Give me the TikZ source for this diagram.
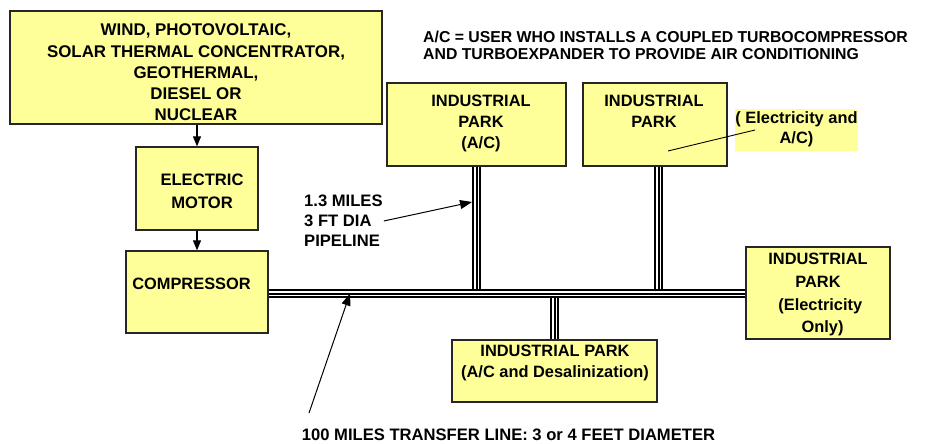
\documentclass[tikz,border=0pt]{standalone}
\usepackage{fontspec}
\setmainfont{Liberation Sans}
\usetikzlibrary{arrows.meta,backgrounds}
\definecolor{boxyellow}{HTML}{FFFF99}
\begin{document}
\begin{tikzpicture}[x=1pt,y=-1pt,
  box/.style={draw=black!85, line width=1.3pt, fill=boxyellow, inner sep=0pt},
  txt/.style={font=\bfseries\fontsize{16.4}{21}\selectfont, align=center, inner sep=0pt},
  pipe/.style={draw=black, line width=2pt,
    preaction={draw=black, line width=9.5pt},
    preaction={draw=white, line width=5.5pt}},
  arr/.style={line width=1pt, -{Triangle[length=12pt,width=9pt]}},
  link/.style={line width=1.2pt, -{Triangle[length=10pt,width=8pt]}}]
\useasboundingbox (0,0) rectangle (935,444);

% boxes
\node[box, minimum width=372pt, minimum height=113pt] (src) at (196,67.5) {};
\node[box, minimum width=122pt, minimum height=83pt] (motor) at (197,188.5) {};
\node[box, minimum width=142pt, minimum height=82pt] (comp) at (197,292) {};
\node[box, minimum width=179pt, minimum height=83pt] (ip1) at (476.5,124.5) {};
\node[box, minimum width=144pt, minimum height=83pt] (ip2) at (655,124.5) {};
\node[box, minimum width=144pt, minimum height=92pt] (ipe) at (818,293) {};
\node[box, minimum width=205pt, minimum height=62pt] (ipd) at (554.5,371) {};

% texts in boxes
\node[txt, font=\bfseries\fontsize{16.9}{21.2}\selectfont] (src-t) at (196,72.5)
  {WIND, PHOTOVOLTAIC,\\SOLAR THERMAL CONCENTRATOR,\\GEOTHERMAL,\\DIESEL OR\\NUCLEAR};
\node[txt, font=\bfseries\fontsize{16.6}{23}\selectfont] (motor-t) at (202,191.5) {ELECTRIC\\MOTOR};
\node[txt] (comp-t) at (191.5,284) {COMPRESSOR};
\node[txt] (ip1-t) at (481,123.7) {INDUSTRIAL\\PARK\\(A/C)};
\node[txt] (ip2-t) at (654,111.5) {INDUSTRIAL\\PARK};
\node[txt, font=\bfseries\fontsize{16.4}{22.7}\selectfont] (ipe-t) at (818,294.7)
  {INDUSTRIAL\\PARK\\\ (Electricity\\\ \ Only)};
\node[txt] (ipd-t) at (555,363.2) {INDUSTRIAL PARK\\(A/C and Desalinization)};

% label with yellow background
\node[txt, fill=boxyellow, minimum width=123pt, minimum height=42pt, font=\bfseries\fontsize{16.4}{20}\selectfont]
  (lbl) at (796.5,129.5) {( Electricity and\\A/C)};
\coordinate (lA) at (755,130);
\coordinate (lB) at (668,151);
\draw[line width=0.9pt] (lA) -- (lB);

% free texts
\node[txt, align=left, anchor=west, font=\bfseries\fontsize{15.8}{17}\selectfont] (note) at (423,45.5)
  {A/C = USER WHO INSTALLS A COUPLED TURBOCOMPRESSOR\\AND TURBOEXPANDER TO PROVIDE AIR CONDITIONING};
\node[txt, align=left, anchor=west, font=\bfseries\fontsize{16.6}{20}\selectfont] (pl) at (304,221)
  {1.3 MILES\\3 FT DIA\\PIPELINE};
\node[txt, font=\bfseries\fontsize{16.6}{21}\selectfont] (bn) at (508.5,435) {100 MILES TRANSFER LINE: 3 or 4 FEET DIAMETER};

% pipes
\coordinate (mT) at (0,289);
\coordinate (mB) at (0,298);
\coordinate (mC) at (0,293.5);
\coordinate (p2) at ([xshift=3.5pt]ip2.south);
\begin{scope}[on background layer]
  \draw[pipe] (ip1.south) -- (ip1.south |- mT);
  \draw[pipe] (p2) -- (p2 |- mT);
  \draw[pipe] (ipd.north) -- (ipd.north |- mB);
  \draw[pipe] (comp.east |- mC) -- (ipe.west |- mC);
\end{scope}

% chain arrows
\draw[link] (motor.north |- src.south) -- (motor.north);
\draw[link] (motor.south) -- (comp.north);

% pointer arrows
\coordinate (t1) at (472,202);
\draw[arr] ([xshift=1pt]pl.east) -- (t1);
\coordinate (b0) at (309,413);
\coordinate (t2) at (350,293.5);
\draw[arr] (b0) -- (t2);
\end{tikzpicture}
\end{document}
